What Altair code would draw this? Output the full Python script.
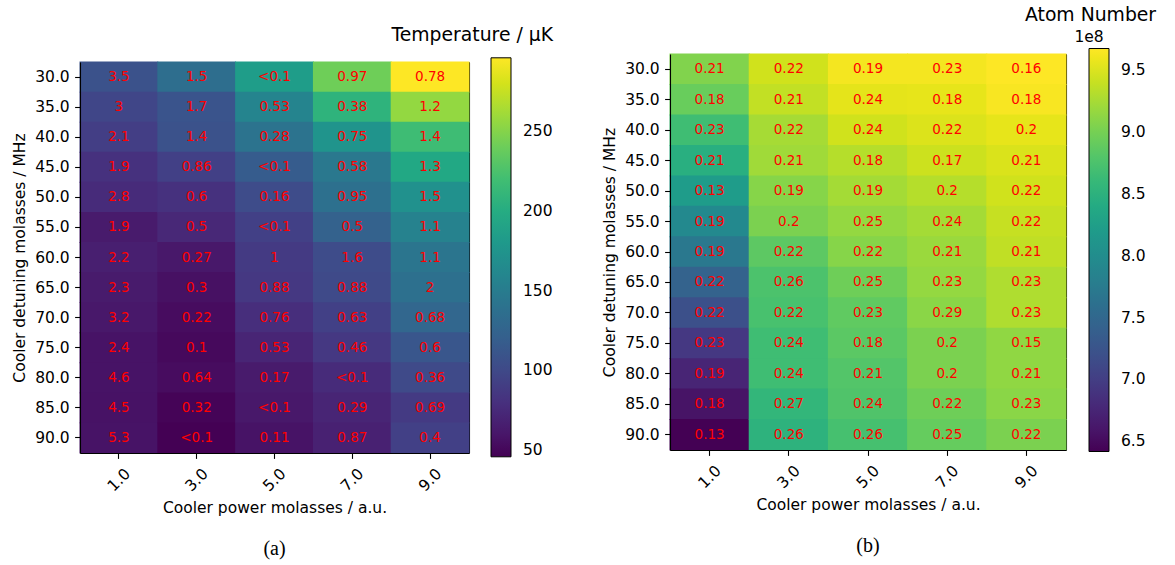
import altair as alt
import pandas as pd

FONT = "DejaVu Sans"

powers = ["1.0", "3.0", "5.0", "7.0", "9.0"]
detunings = ["30.0", "35.0", "40.0", "45.0", "50.0", "55.0", "60.0",
             "65.0", "70.0", "75.0", "80.0", "85.0", "90.0"]

# Temperature in µK, one list per cooler power, rows ordered like `detunings`
temp_p1 = [108, 98, 91, 81, 76, 63, 66, 63, 61, 58, 58, 57, 58]
temp_p3 = [136, 111, 108, 93, 81, 73, 61, 56, 53, 51, 53, 48, 45.9]
temp_p5 = [184, 158, 141, 118, 103, 93, 88, 86, 78, 71, 63, 61, 58]
temp_p7 = [241, 208, 174, 146, 138, 123, 103, 101, 93, 86, 76, 71, 68]
temp_p9 = [296, 256, 218, 196, 171, 156, 143, 138, 128, 113, 101, 88, 93]

# Uncertainty printed in each temperature cell
temp_err_p1 = ["3.5", "3", "2.1", "1.9", "2.8", "1.9", "2.2", "2.3", "3.2", "2.4", "4.6", "4.5", "5.3"]
temp_err_p3 = ["1.5", "1.7", "1.4", "0.86", "0.6", "0.5", "0.27", "0.3", "0.22", "0.1", "0.64", "0.32", "<0.1"]
temp_err_p5 = ["<0.1", "0.53", "0.28", "<0.1", "0.16", "<0.1", "1", "0.88", "0.76", "0.53", "0.17", "<0.1", "0.11"]
temp_err_p7 = ["0.97", "0.38", "0.75", "0.58", "0.95", "0.5", "1.6", "0.88", "0.63", "0.46", "<0.1", "0.29", "0.87"]
temp_err_p9 = ["0.78", "1.2", "1.4", "1.3", "1.5", "1.1", "1.1", "2", "0.68", "0.6", "0.36", "0.69", "0.4"]

# Atom number in units of 1e8
atoms_p1 = [9.06, 8.93, 8.67, 8.47, 8.21, 7.95, 7.72, 7.43, 7.20, 6.94, 6.74, 6.58, 6.417]
atoms_p3 = [9.45, 9.38, 9.25, 9.22, 9.09, 9.03, 8.86, 8.76, 8.73, 8.67, 8.67, 8.57, 8.52]
atoms_p5 = [9.63, 9.55, 9.45, 9.32, 9.24, 9.16, 9.09, 8.96, 8.88, 8.85, 8.80, 8.78, 8.72]
atoms_p7 = [9.63, 9.56, 9.51, 9.43, 9.32, 9.24, 9.19, 9.16, 9.11, 9.03, 9.03, 8.96, 8.91]
atoms_p9 = [9.678, 9.65, 9.56, 9.50, 9.45, 9.40, 9.37, 9.29, 9.29, 9.14, 9.14, 9.11, 9.03]

# Uncertainty printed in each atom-number cell
atoms_err_p1 = ["0.21", "0.18", "0.23", "0.21", "0.13", "0.19", "0.19", "0.22", "0.22", "0.23", "0.19", "0.18", "0.13"]
atoms_err_p3 = ["0.22", "0.21", "0.22", "0.21", "0.19", "0.2", "0.22", "0.26", "0.22", "0.24", "0.24", "0.27", "0.26"]
atoms_err_p5 = ["0.19", "0.24", "0.24", "0.18", "0.19", "0.25", "0.22", "0.25", "0.23", "0.18", "0.21", "0.24", "0.26"]
atoms_err_p7 = ["0.23", "0.18", "0.22", "0.17", "0.2", "0.24", "0.21", "0.23", "0.29", "0.2", "0.2", "0.22", "0.25"]
atoms_err_p9 = ["0.16", "0.18", "0.2", "0.21", "0.22", "0.22", "0.21", "0.23", "0.23", "0.15", "0.21", "0.23", "0.22"]

temp_ticks = [50, 100, 150, 200, 250]
atom_ticks = [6.5, 7.0, 7.5, 8.0, 8.5, 9.0, 9.5]


def cell_table(columns, labels, field):
    rows = []
    for p, vals, labs in zip(powers, columns, labels):
        for d, v, lab in zip(detunings, vals, labs):
            rows.append({"power": p, "detuning": d, field: v, "label": lab})
    return pd.DataFrame(rows)


def heatmap(table, field, width, height, top_gap, legend, caption, header=None):
    base = alt.Chart(table)
    x_scale = alt.Scale(paddingInner=0, paddingOuter=0)
    y_scale = alt.Scale(paddingInner=0, paddingOuter=0, range=[top_gap, height])
    color_scale = alt.Scale(scheme="viridis", zero=False, nice=False)

    # cells are a hair larger than their band so neighbours overlap without seams
    cells = base.mark_rect(
        width=alt.RelativeBandSize(band=1.012),
        height=alt.RelativeBandSize(band=1.03),
    ).encode(
        x=alt.X("power:O", sort=powers, scale=x_scale,
                axis=alt.Axis(orient="bottom", title="Cooler power molasses / a.u.",
                              labelAngle=315, labelAlign="center", labelBaseline="middle",
                              labelPadding=21, titlePadding=6)),
        y=alt.Y("detuning:O", sort=detunings, scale=y_scale,
                axis=alt.Axis(orient="left", title="Cooler detuning molasses / MHz",
                              titlePadding=7)),
        color=alt.Color(f"{field}:Q", scale=color_scale, legend=legend),
    )
    values = base.mark_text(color="#ff0000", fontSize=13.5, font=FONT).encode(
        x=alt.X("power:O", sort=powers,
                axis=alt.Axis(orient="top", offset=-top_gap, labels=False, ticks=False, title=None)),
        y=alt.Y("detuning:O", sort=detunings,
                axis=alt.Axis(orient="right", labels=False, ticks=False, title=None)),
        text="label:N",
    )
    layers = [cells, values]
    if header is not None:
        text, hx, hy = header
        layers.append(
            alt.Chart(pd.DataFrame({"t": [text]}))
            .mark_text(align="left", baseline="middle", fontSize=18.8, font=FONT, color="black")
            .encode(x=alt.value(hx), y=alt.value(hy), text="t:N")
        )
    return (
        alt.layer(*layers)
        .resolve_axis(x="independent", y="independent")
        .properties(
            width=width,
            height=height,
            title=alt.TitleParams(caption, orient="bottom", anchor="middle", frame="group",
                                  font="Liberation Serif", fontSize=20, fontWeight="normal",
                                  color="black", offset=23),
        )
    )


temp_table = cell_table([temp_p1, temp_p3, temp_p5, temp_p7, temp_p9],
                        [temp_err_p1, temp_err_p3, temp_err_p5, temp_err_p7, temp_err_p9],
                        "temperature")
atom_table = cell_table([atoms_p1, atoms_p3, atoms_p5, atoms_p7, atoms_p9],
                        [atoms_err_p1, atoms_err_p3, atoms_err_p5, atoms_err_p7, atoms_err_p9],
                        "atoms")

temp_legend = alt.Legend(
    title="Temperature / µK", type="gradient", orient="none", legendX=311, legendY=-28,
    direction="vertical", gradientLength=399, gradientThickness=20, titleAnchor="end",
    titleLimit=400, titleFontSize=18.8, titleFont=FONT, titleFontWeight="normal",
    titleColor="black", titlePadding=13, labelFontSize=15.5, labelFont=FONT,
    labelColor="black", labelOffset=12, values=temp_ticks, gradientStrokeColor="black",
    gradientStrokeWidth=1, padding=0,
)
atom_legend = alt.Legend(
    title="1e8", type="gradient", orient="none", legendX=404, legendY=-24,
    direction="vertical", gradientLength=403, gradientThickness=20, titleAnchor="start",
    titleAlign="center", titleFontSize=15.5, titleFont=FONT, titleFontWeight="normal",
    titleColor="black", titlePadding=3, labelFontSize=15.5, labelFont=FONT,
    labelColor="black", labelOffset=12, values=atom_ticks, format=".1f",
    gradientStrokeColor="black", gradientStrokeWidth=1, padding=0,
)

left = heatmap(temp_table, "temperature", 389, 399, 8, temp_legend, "(a)")
right = heatmap(atom_table, "atoms", 396, 396, 0, atom_legend, "(b)",
                header=("Atom Number", 355, -39))

chart = (
    alt.hconcat(left, right, spacing=49)
    .resolve_scale(color="independent")
    .resolve_legend(color="independent")
    .configure_view(strokeWidth=0)
    .configure_axis(
        labelFont=FONT, titleFont=FONT, labelFontSize=15.5, titleFontSize=15.5,
        titleFontWeight="normal", labelColor="black", titleColor="black",
        tickColor="black", domainColor="black", tickSize=5.4, tickWidth=1.1,
        domainWidth=1.1, labelPadding=5.4, grid=False,
    )
    .properties(padding={"left": 12, "top": 6, "right": 5, "bottom": 4}, background="white")
)

chart.save("out.html", embed_options={"renderer": "svg", "actions": False})
